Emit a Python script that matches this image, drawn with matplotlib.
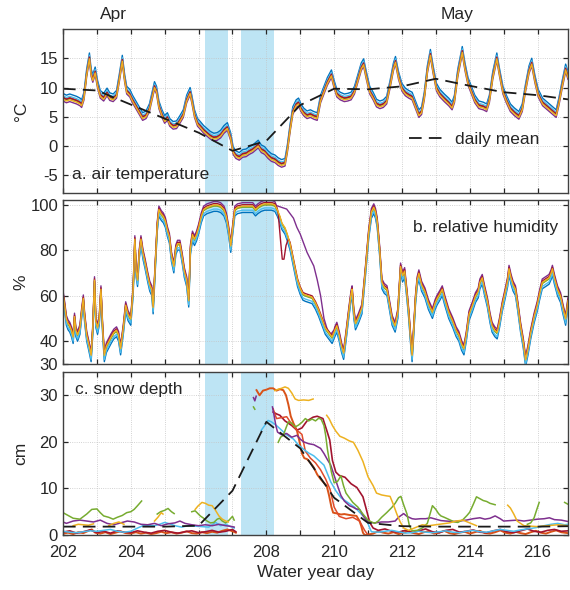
import numpy as np
import matplotlib.pyplot as plt
from matplotlib.lines import Line2D

plt.rcParams['font.family'] = ['Liberation Sans', 'DejaVu Sans']
plt.rcParams['font.size'] = 12
plt.rcParams['axes.unicode_minus'] = False

nan = np.nan

# station colours (MATLAB default order)
blue, orange, yellow, purple = '#0072BD', '#D95319', '#EDB120', '#7E2F8E'
green, cyan, red = '#77AC30', '#4DBEEE', '#A2142F'

# ---- a. air temperature (typical station), degC
temp_t = [202.00, 202.10, 202.20, 202.30, 202.40, 202.50, 202.55, 202.62, 202.70, 202.78,
          202.83, 202.88, 202.95, 203.02, 203.10, 203.20, 203.30, 203.38, 203.48, 203.58,
          203.66, 203.75, 203.82, 203.88, 203.97, 204.05, 204.15, 204.25, 204.35, 204.45,
          204.55, 204.63, 204.70, 204.76, 204.83, 204.92, 205.00, 205.08, 205.15, 205.25,
          205.35, 205.45, 205.55, 205.65, 205.75, 205.80, 205.88, 205.97, 206.05, 206.15,
          206.25, 206.35, 206.45, 206.55, 206.65, 206.75, 206.85, 206.95, 207.02, 207.10,
          207.20, 207.30, 207.40, 207.50, 207.60, 207.70, 207.76, 207.85, 207.95, 208.05,
          208.15, 208.25, 208.35, 208.45, 208.55, 208.62, 208.70, 208.78, 208.88, 208.95,
          209.02, 209.10, 209.20, 209.30, 209.40, 209.50, 209.60, 209.70, 209.80, 209.92,
          210.00, 210.08, 210.18, 210.30, 210.40, 210.50, 210.60, 210.70, 210.80, 210.87,
          210.95, 211.05, 211.15, 211.25, 211.35, 211.45, 211.55, 211.65, 211.75, 211.81,
          211.90, 212.00, 212.10, 212.20, 212.30, 212.40, 212.50, 212.58, 212.66, 212.75,
          212.84, 212.92, 213.02, 213.12, 213.25, 213.38, 213.48, 213.55, 213.65, 213.78,
          213.86, 213.95, 214.05, 214.15, 214.27, 214.40, 214.50, 214.58, 214.68, 214.80,
          214.88, 214.98, 215.08, 215.20, 215.32, 215.45, 215.55, 215.65, 215.75, 215.83,
          215.92, 216.02, 216.15, 216.25, 216.35, 216.45, 216.55, 216.63, 216.73, 216.83,
          216.90]
temp_v = [8.3, 8.0, 8.2, 8.0, 7.8, 7.5, 7.2, 8.5, 12.5, 15.2,
          12.5, 11.5, 12.8, 10.5, 8.8, 8.3, 9.2, 8.4, 8.2, 8.8,
          11.5, 14.8, 11.5, 9.5, 9.0, 8.0, 7.0, 6.0, 5.0, 5.3,
          6.5, 8.5, 10.3, 9.5, 7.0, 5.5, 4.5, 5.0, 4.0, 3.5,
          3.6, 4.5, 5.5, 8.0, 9.3, 8.0, 5.5, 4.0, 3.5, 2.8,
          2.3, 1.8, 1.5, 1.6, 2.0, 2.8, 3.3, 1.5, -0.8, -1.5,
          -1.8, -1.3, -1.2, -0.8, -0.5, 0.0, 0.3, -0.5, -0.8, -1.5,
          -2.0, -2.2, -2.7, -3.0, -2.8, -0.5, 3.0, 6.0, 7.2, 7.5,
          6.5, 5.8, 5.3, 5.5, 5.2, 5.0, 8.0, 9.5, 11.0, 12.3,
          10.5, 9.0, 8.5, 8.2, 8.3, 8.5, 9.5, 11.5, 13.5, 14.2,
          12.0, 9.5, 8.5, 7.3, 7.0, 7.2, 7.8, 10.5, 13.5, 14.6,
          12.0, 10.0, 9.2, 8.8, 8.5, 7.0, 5.5, 6.0, 8.5, 13.0,
          15.8, 13.0, 10.0, 9.0, 8.2, 7.5, 6.8, 8.0, 12.5, 16.3,
          13.5, 11.0, 9.5, 8.0, 7.0, 6.8, 6.5, 8.0, 12.0, 15.2,
          12.5, 9.5, 8.0, 6.5, 5.8, 5.2, 6.5, 10.0, 13.0, 14.3,
          11.5, 9.0, 7.5, 7.0, 6.5, 6.0, 5.5, 7.5, 10.5, 13.3,
          12.0]
temp_offset = [0.7, 0.1, -0.3, -0.6, -0.1, 0.3, 0.0]

temp_mean_t = [202, 203, 204, 205, 206, 207, 208, 209, 210, 211, 212, 213, 214, 215, 216, 217]
temp_mean_v = [9.8, 9.5, 7.1, 4.7, 2.3, -0.8, 0.9, 7.0, 9.8, 9.7, 10.2, 11.5, 10.3, 9.2, 8.7, 7.9]

# ---- b. relative humidity (typical station), %
rh_t = [202.00, 202.05, 202.10, 202.15, 202.20, 202.25, 202.30, 202.34, 202.38, 202.43,
        202.50, 202.55, 202.60, 202.64, 202.70, 202.76, 202.83, 202.88, 202.93, 202.97,
        203.02, 203.07, 203.12, 203.17, 203.22, 203.28, 203.35, 203.42, 203.50, 203.58,
        203.64, 203.70, 203.78, 203.85, 203.92, 204.00, 204.07, 204.12, 204.16, 204.20,
        204.25, 204.30, 204.36, 204.42, 204.50, 204.56, 204.62, 204.66, 204.72, 204.78,
        204.83, 204.90, 204.96, 205.02, 205.08, 205.14, 205.20, 205.27, 205.33, 205.38,
        205.45, 205.52, 205.58, 205.65, 205.71, 205.76, 205.82, 205.88, 205.94, 206.00,
        206.08, 206.15, 206.25, 206.35, 206.45, 206.55, 206.65, 206.75, 206.82, 206.88,
        206.95, 207.00, 207.07, 207.15, 207.30, 207.45, 207.60, 207.68, 207.75, 207.85,
        207.95, 208.05, 208.15, 208.25, 208.32, 208.40, 208.46, 208.55, 208.62, 208.70,
        208.78, 208.85, 208.92, 209.00, 209.08, 209.15, 209.25, 209.35, 209.45, 209.54,
        209.64, 209.74, 209.84, 209.94, 210.02, 210.08, 210.15, 210.22, 210.28, 210.35,
        210.43, 210.50, 210.53, 210.58, 210.63, 210.72, 210.82, 210.92, 211.02, 211.10,
        211.17, 211.22, 211.27, 211.34, 211.41, 211.48, 211.56, 211.64, 211.71, 211.80,
        211.88, 211.96, 212.02, 212.08, 212.15, 212.20, 212.26, 212.30, 212.35, 212.40,
        212.45, 212.50, 212.58, 212.68, 212.78, 212.90, 212.98, 213.04, 213.12, 213.19,
        213.26, 213.38, 213.50, 213.60, 213.68, 213.76, 213.83, 213.90, 213.98, 214.08,
        214.17, 214.25, 214.30, 214.37, 214.44, 214.52, 214.60, 214.66, 214.74, 214.81,
        214.88, 214.96, 215.05, 215.12, 215.16, 215.22, 215.28, 215.35, 215.42, 215.50,
        215.58, 215.65, 215.72, 215.80, 215.90, 215.99, 216.06, 216.14, 216.24, 216.34,
        216.40, 216.44, 216.50, 216.59, 216.68, 216.75, 216.83, 216.90]
rh_v = [60, 55, 49, 47, 46, 44, 41, 50, 44, 42,
        45, 52, 58, 50, 42, 38, 33, 45, 66, 48,
        45, 49, 62, 45, 33, 37, 39, 41, 43, 44,
        42, 36, 45, 55, 51, 49, 62, 84, 70, 66,
        78, 84, 78, 74, 68, 64, 62, 54, 72, 90,
        97, 95, 94, 92, 88, 85, 77, 72, 80, 82,
        82, 76, 70, 66, 57, 80, 86, 84, 86, 89,
        94, 97, 98, 98.5, 99, 99, 98.5, 97, 94, 89,
        81, 88, 97, 98, 98.5, 98.5, 98.5, 97, 98, 99,
        99.5, 99.5, 99.5, 99, 97, 94, 91, 89, 86, 82,
        76, 71, 66, 62.5, 60, 59.5, 59, 58.5, 56, 53,
        49, 45, 43, 41, 44, 46, 42, 37, 34, 42,
        52, 60, 62, 52, 47, 50, 54, 70, 87, 96,
        98, 96, 92, 80, 65, 63, 62, 55, 49, 46,
        52, 72, 68, 70, 60, 52, 40, 33, 45, 58,
        66, 69, 64, 61, 56, 52, 56, 58, 60, 62,
        58, 52, 48, 44, 42, 38, 36, 42, 51, 55,
        59, 61, 65, 67, 62, 57, 50, 46, 44, 43,
        48, 55, 61, 66, 71, 67, 64, 62, 55, 46,
        39, 31, 36, 43, 50, 55, 60, 65, 66, 67,
        69, 71, 67, 62, 59, 54, 49, 57]
rh_offset = [-2.0, 0.5, 0.8, 2.3, 0.3, -1.0, 1.4]

# stations that leave the bundle
purple_rh_t = [208.30, 208.40, 208.50, 208.60, 208.70, 208.80, 208.90, 209.00, 209.10,
               209.20, 209.30, 209.40, 209.50, 209.60, 209.70, 209.80, 209.90, 210.00]
purple_rh_v = [99.5, 99, 98.5, 98, 96, 94, 90, 87, 83, 79, 76, 73, 67, 60, 50, 45, 43, 45]
red_rh_t = [208.35, 208.42, 208.47, 208.52, 208.58, 208.65]
red_rh_v = [96, 84, 76, 76, 82, 85]

# ---- c. snow depth, cm (nan = no data)
green_sd_t = [202.0, 202.15, 202.3, 202.5, 202.7, 202.85, 203.0, 203.1, 203.2, 203.35, 203.48,
              203.6, 203.75, 203.88, 204.0, 204.1, 204.2, 204.32, 204.4,
              204.78, 204.88, 205.0, 205.1, 205.2, 205.28, 205.35,
              205.8, 205.9, 206.05, 206.15, 206.25, 206.35, 206.45, 206.55, 206.62, 206.7,
              206.8, 206.9, 207.0, 207.05, 207.1,
              207.62, 207.66, 207.7,
              208.35, 208.42, 208.5, 208.58, 208.65, 208.75, 208.85, 208.95, 209.05, 209.15,
              209.25, 209.35, 209.45, 209.55, 209.62, 209.7, 209.75, 209.8, 209.85, 209.92,
              210.0, 210.1, 210.2, 210.28, 210.35, 210.45, 210.55, 210.7, 210.85, 211.0,
              211.1, 211.2, 211.3, 211.4, 211.55, 211.7, 211.8, 211.9, 211.97, 212.05,
              212.15, 212.22, 212.3, 212.45, 212.6, 212.75, 212.9, 213.0, 213.08, 213.15,
              213.25, 213.4, 213.55, 213.65, 213.8, 213.92, 214.0, 214.1, 214.2, 214.3,
              214.4, 214.5, 214.6, 214.7, 214.75, 214.8,
              215.7, 215.8, 215.9, 215.98, 216.05, 216.1,
              216.8, 216.85, 216.9]
green_sd_v = [4.8, 4.2, 3.6, 3.4, 4.5, 5.5, 5.6, 4.8, 4.1, 3.8, 3.4,
              3.8, 4.2, 4.8, 5.0, 5.5, 6.3, 7.3, nan,
              4.5, 5.0, 5.3, 5.7, 5.0, 4.6, nan,
              5.0, 5.2, 4.1, 3.6, 3.0, 2.6, 2.7, 3.4, 3.6, 3.0,
              2.6, 3.2, 4.0, 3.2, nan,
              27.5, 27.0, nan,
              19.9, 21.0, 21.4, 23.0, 24.3, 24.0, 23.2, 23.6, 24.2, 25.0,
              24.5, 24.9, 24.5, 25.1, 24.8, 23.5, 21.4, 18.5, 16.3, 13.5,
              11.2, 11.5, 12.7, 10.5, 9.0, 8.0, 7.0, 6.0, 4.5, 3.2,
              2.8, 2.5, 3.0, 3.8, 4.8, 5.9, 6.8, 8.0, 8.3, 6.5,
              4.5, 2.0, 0.9, 1.0, 1.5, 2.5, 6.3, 5.5, 4.6, 4.1,
              3.8, 3.3, 2.8, 2.7, 3.3, 4.2, 4.9, 6.5, 8.2, 7.8,
              7.4, 7.2, 6.8, 6.6, 6.5, nan,
              2.3, 2.6, 3.7, 5.5, 7.0, nan,
              7.0, 6.8, 6.6]

purple_sd_t = [202.0, 202.1, 202.3, 202.5, 202.7, 202.9, 203.1, 203.3, 203.5, 203.7, 203.9,
               204.1, 204.3, 204.5, 204.7, 204.9, 205.1, 205.3, 205.45, 205.6, 205.8,
               206.0, 206.2, 206.4, 206.6, 206.8, 207.0, 207.05, 207.1,
               207.62, 207.66, 207.7, 207.72,
               208.18, 208.22, 208.28, 208.33, 208.45, 208.6, 208.75, 208.9, 209.0, 209.1,
               209.25, 209.4, 209.5, 209.6, 209.7, 209.8, 209.9, 210.0, 210.1, 210.2,
               210.3, 210.45, 210.55, 210.65, 210.75, 210.85, 210.95, 211.05, 211.2, 211.4,
               211.6, 211.8, 211.9, 212.05, 212.15, 212.3, 212.4, 212.55, 212.7, 212.85,
               213.0, 213.15, 213.3, 213.5, 213.7, 213.9, 214.1, 214.3, 214.45, 214.6,
               214.75, 214.9, 215.0, 215.2, 215.4, 215.6, 215.8, 216.0, 216.2, 216.35,
               216.5, 216.7, 216.9]
purple_sd_v = [2.8, 2.5, 3.0, 3.2, 3.0, 2.8, 3.2, 2.5, 2.2, 2.6, 3.0,
               2.8, 2.3, 2.2, 2.5, 2.0, 2.4, 2.6, 3.0, 2.5, 2.2,
               2.0, 2.2, 2.0, 2.3, 2.0, 1.8, 1.7, nan,
               29.5, 28.8, 29.8, nan,
               27.5, 26.0, 23.5, 22.1, 21.5, 21.8, 21.0, 21.4, 20.6, 20.0,
               19.6, 19.4, 19.0, 18.6, 17.5, 16.2, 15.0, 12.8, 10.6, 8.5,
               7.3, 6.3, 6.0, 5.6, 5.5, 4.2, 3.2, 2.7, 2.6, 2.8,
               2.8, 3.0, 3.8, 4.6, 4.0, 3.5, 3.4, 3.5, 3.5, 3.7,
               3.4, 3.1, 3.0, 2.9, 3.0, 3.2, 3.5, 3.7, 3.4, 3.6,
               4.1, 3.5, 3.0, 3.1, 3.2, 3.0, 3.2, 3.4, 3.5, 3.7,
               3.3, 3.2, 2.9]

yellow_sd_t = [202.3, 202.45, 202.6, 202.75, 202.9, 202.95,
               203.35, 203.5, 203.65, 203.8, 203.85,
               204.7, 204.8, 204.9, 204.95, 205.0,
               205.9, 205.98, 206.1, 206.2, 206.3, 206.4, 206.5, 206.6, 206.7, 206.8, 206.88, 206.9,
               208.25, 208.35, 208.45, 208.55, 208.65, 208.75, 208.85, 208.95, 209.1, 209.25,
               209.38, 209.4,
               209.78, 209.85, 209.95, 210.05, 210.17, 210.3, 210.45, 210.57, 210.7, 210.85,
               211.0, 211.15, 211.25, 211.4, 211.55, 211.65, 211.75, 211.85, 211.95, 212.05,
               212.2, 212.4, 212.6, 212.8, 213.0, 213.2, 213.4, 213.6, 213.8, 214.0, 214.2, 214.25,
               215.12, 215.2, 215.3, 215.4, 215.5, 215.6, 215.8, 216.0, 216.3, 216.6, 216.9]
yellow_sd_v = [2.0, 2.3, 2.2, 2.1, 2.4, nan,
               2.0, 2.5, 2.8, 2.3, nan,
               3.0, 3.8, 4.8, 4.5, nan,
               5.5, 6.2, 7.0, 6.8, 6.4, 6.3, 5.3, 4.1, 3.4, 3.0, 2.8, nan,
               31.0, 31.3, 31.5, 31.8, 31.5, 30.5, 29.2, 28.9, 29.0, 28.9,
               29.2, nan,
               25.7, 25.0, 23.5, 22.3, 21.2, 20.8, 20.2, 19.9, 18.2, 15.8,
               12.5, 10.6, 9.0, 8.6, 8.4, 8.3, 6.5, 4.5, 2.8, 1.5,
               1.0, 1.6, 2.2, 2.0, 2.2, 2.4, 2.6, 3.0, 3.2, 2.6, 2.0, nan,
               6.4, 5.8, 4.5, 3.0, 2.5, 2.0, 1.9, 1.8, 2.0, 2.2, 2.0]

cyan_sd_t = [202.0, 202.2, 202.4, 202.6, 202.8, 203.0, 203.2, 203.4, 203.6, 203.8, 204.0,
             204.2, 204.36, 204.5, 204.7, 204.85, 205.0, 205.15, 205.3, 205.5, 205.7,
             205.9, 206.1, 206.3, 206.5, 206.65, 206.8, 206.95, 207.05, 207.1,
             207.85, 207.95, 208.05, 208.15, 208.3, 208.45, 208.6, 208.8, 208.95, 209.1,
             209.25, 209.4, 209.55, 209.7, 209.8, 209.9, 210.05, 210.2, 210.4, 210.6,
             210.8, 210.95, 211.05, 211.1, 211.3, 211.5, 211.7, 211.9, 212.1, 212.3,
             212.5, 212.7, 212.9, 213.1, 213.3, 213.5, 213.7, 213.9, 214.1, 214.3,
             214.5, 214.7, 214.9, 215.1, 215.3, 215.5, 215.7, 215.97, 216.2, 216.4,
             216.6, 216.8, 216.9]
cyan_sd_v = [0.8, 0.6, 0.5, 0.7, 0.9, 0.8, 1.0, 1.2, 0.8, 0.6, 0.8,
             1.5, 2.0, 2.1, 2.0, 2.3, 2.7, 2.4, 2.0, 1.7, 2.0,
             1.9, 1.8, 1.7, 2.7, 2.0, 2.3, 1.8, 1.5, nan,
             22.5, 23.5, 24.6, 24.3, 23.5, 22.5, 21.5, 20.6, 19.3, 18.4,
             17.6, 17.0, 16.0, 15.0, 13.2, 11.4, 9.5, 8.0, 7.0, 6.0,
             4.5, 3.4, 1.5, 0.7, 0.6, 0.8, 1.0, 0.7, 0.4, 0.5,
             0.8, 0.6, 0.5, 0.7, 0.9, 0.6, 0.5, 0.8, 1.0, 0.7,
             0.6, 0.9, 1.2, 1.0, 0.8, 1.1, 1.3, 1.6, 2.0, 2.3,
             2.5, 2.2, 2.3]

orange_sd_t = [202.0, 202.15, 202.3, 202.45, 202.6, 202.75, 202.85, 202.95, 203.1, 203.25,
               203.4, 203.55, 203.7, 203.85, 204.0, 204.15, 204.3, 204.45, 204.6, 204.75,
               204.9, 205.05, 205.2, 205.35, 205.5, 205.65, 205.8, 205.95, 206.1, 206.25,
               206.4, 206.55, 206.7, 206.85, 207.0, 207.1, 207.15,
               207.71, 207.8, 207.9, 208.0, 208.1, 208.2, 208.3, 208.4, 208.5, 208.58,
               208.65, 208.72, 208.8, 208.9, 208.98, 209.05, 209.12, 209.2, 209.3, 209.4,
               209.5, 209.6, 209.7, 209.78, 209.85, 209.92, 209.97, 210.1, 210.2, 210.3,
               210.45, 210.55, 210.66, 210.75, 210.8, 210.85, 210.9, 211.0, 211.15, 211.3,
               211.45, 211.6, 211.75, 211.9, 212.05, 212.2, 212.35, 212.5, 212.65, 212.8,
               212.95, 213.1, 213.25, 213.4, 213.55, 213.7, 213.85, 214.0, 214.15, 214.3,
               214.45, 214.6, 214.75, 214.9, 215.05, 215.2, 215.35, 215.5, 215.65, 215.8,
               215.95, 216.1, 216.25, 216.4, 216.55, 216.7, 216.9]
orange_sd_v = [0.3, 0.5, 0.2, 0.6, 0.4, 0.9, 1.2, 0.5, 0.3, 0.6,
               0.2, 0.5, 0.8, 0.4, 0.3, 0.6, 0.3, 0.5, 0.2, 0.4,
               0.7, 0.4, 0.6, 0.3, 0.5, 0.8, 0.4, 0.3, 0.6, 0.4,
               0.7, 0.5, 0.9, 1.2, 0.8, 0.5, nan,
               31.1, 30.0, 31.0, 31.2, 31.5, 31.5, 31.0, 31.3, 31.1, 30.0,
               28.0, 25.5, 24.0, 22.5, 20.0, 17.5, 16.5, 16.3, 15.5, 14.5,
               13.0, 12.0, 11.2, 10.6, 8.5, 6.0, 4.8, 4.6, 4.4, 4.5,
               4.3, 4.2, 4.1, 3.0, 1.9, 0.5, 0.0, 0.1, 0.3, 0.8,
               0.5, 0.3, 0.6, 0.2, 0.5, 0.9, 0.4, 0.2, 0.6, 0.8,
               0.3, 0.5, 0.9, 0.4, 0.2, 0.5, 0.7, 0.3, 0.6, 0.9,
               0.4, 0.3, 0.6, 1.0, 0.5, 0.3, 0.7, 0.4, 0.2, 0.6,
               0.9, 0.5, 0.3, 0.7, 1.0, 0.6, 0.4]

red_sd_t = [202.0, 202.2, 202.4, 202.6, 202.8, 203.0, 203.2, 203.4, 203.6, 203.8, 204.0,
            204.2, 204.4, 204.6, 204.8, 205.0, 205.2, 205.4, 205.6, 205.8, 206.0,
            206.2, 206.4, 206.6, 206.8, 207.0, 207.1, 207.15,
            208.2, 208.3, 208.4, 208.55, 208.75, 208.9, 209.05, 209.2, 209.38, 209.5,
            209.67, 209.78, 209.87, 209.95, 210.05, 210.15, 210.32, 210.5, 210.67, 210.85,
            210.95, 211.05, 211.15, 211.3, 211.5, 211.7, 211.9, 212.1, 212.3, 212.5,
            212.7, 212.9, 213.1, 213.3, 213.5, 213.7, 213.9, 214.1, 214.3, 214.5,
            214.7, 214.9, 215.1, 215.3, 215.5, 215.7, 215.9, 216.1, 216.3, 216.5,
            216.7, 216.9]
red_sd_v = [0.6, 0.9, 0.4, 0.7, 1.1, 0.5, 0.8, 0.4, 0.9, 0.6, 0.5,
            0.9, 0.6, 0.4, 0.8, 1.0, 0.6, 0.4, 0.7, 0.9, 0.5,
            0.7, 1.0, 0.6, 0.8, 1.2, 0.7, nan,
            26.4, 26.0, 25.7, 24.5, 23.5, 22.5, 23.0, 24.5, 25.3, 25.5,
            25.0, 22.5, 20.4, 16.0, 13.5, 12.8, 12.4, 11.0, 10.2, 8.2,
            5.5, 2.7, 1.5, 1.0, 1.3, 0.8, 0.6, 1.0, 0.5, 0.9,
            1.3, 0.7, 0.5, 1.0, 1.2, 0.6, 0.8, 1.1, 0.6, 0.5,
            0.9, 1.2, 0.7, 0.5, 0.9, 1.3, 0.8, 0.6, 1.0, 1.2,
            0.8, 0.9]

red2_sd_t = [208.2, 208.3, 208.45, 208.6, 208.75, 208.9, 209.05, 209.15, 209.3, 209.45,
             209.6, 209.75, 209.88, 210.0, 210.15, 210.35, 210.55, 210.75, 210.9, 211.0]
red2_sd_v = [27.1, 25.0, 25.2, 25.4, 23.8, 22.5, 21.6, 18.0, 16.5, 15.5,
             14.0, 12.0, 9.8, 6.0, 4.0, 3.5, 3.8, 3.0, 1.0, 0.0]

snow_mean_t = [202, 203, 204, 205, 206, 207, 208, 209, 210, 211, 212, 213, 214, 215, 216, 217]
snow_mean_v = [1.8, 1.8, 1.8, 1.8, 2.0, 9.5, 24.3, 18.6, 8.0, 2.6, 1.9, 1.8, 1.8, 1.8, 1.8, 1.9]

storms = [(206.2, 206.87), (207.24, 208.23)]


def splice(t, v, seg_t, seg_v):
    t = np.asarray(t)
    v = np.asarray(v, dtype=float)
    before = t < seg_t[0]
    after = t > seg_t[-1]
    return (np.concatenate([t[before], seg_t, t[after]]),
            np.concatenate([v[before], seg_v, v[after]]))


fig = plt.figure(figsize=(5.7, 5.9), dpi=100)
ax_a = fig.add_axes([0.1105, 0.6729, 0.886, 0.2780])
ax_b = fig.add_axes([0.1105, 0.3831, 0.886, 0.2780])
ax_c = fig.add_axes([0.1105, 0.0932, 0.886, 0.2763])

txt = '#262626'
colors = [blue, orange, purple, green, cyan, red, yellow]
order_idx = [0, 1, 3, 4, 5, 6, 2]   # offsets listed as blue, orange, yellow, purple, green, cyan, red
dash_kw = dict(color='#1a1a1a', lw=1.3, dashes=(7, 4))

tt = np.array(temp_t)
tv = np.array(temp_v)
for c, k in zip(colors, order_idx):
    ax_a.plot(tt, tv + temp_offset[k], color=c, lw=1.0)
ax_a.plot(temp_mean_t, temp_mean_v, **dash_kw)

rt = np.array(rh_t)
rv = np.array(rh_v, dtype=float)
for c, k in zip(colors, order_idx):
    x, y = rt, rv + rh_offset[k]
    if c == purple:
        x, y = splice(rt, rv + rh_offset[k], purple_rh_t, purple_rh_v)
    if c == red:
        x, y = splice(rt, rv + rh_offset[k], red_rh_t, red_rh_v)
    ax_b.plot(x, y, color=c, lw=1.0)

snow = [(orange_sd_t, orange_sd_v, orange, 1.4), (red_sd_t, red_sd_v, red, 1.2),
        (red2_sd_t, red2_sd_v, '#E04A2A', 1.1), (cyan_sd_t, cyan_sd_v, cyan, 1.1),
        (purple_sd_t, purple_sd_v, purple, 1.1), (green_sd_t, green_sd_v, green, 1.1),
        (yellow_sd_t, yellow_sd_v, yellow, 1.1)]
for st, sv, c, w in snow:
    ax_c.plot(st, sv, color=c, lw=w)
ax_c.plot(snow_mean_t, snow_mean_v, **dash_kw)

for ax in (ax_a, ax_b, ax_c):
    for x0, x1 in storms:
        ax.axvspan(x0, x1, color='#bde4f4', lw=0, zorder=0)
    ax.set_xlim(202, 216.9)
    ax.set_xticks(np.arange(202, 217))
    ax.grid(True, color='#c4c4c4', lw=0.6, ls=':')
    ax.set_axisbelow(True)
    ax.tick_params(direction='in', top=True, right=True, length=3.5, width=0.9,
                   colors=txt, labelsize=12)
    ax.tick_params(axis='x', pad=7)
    for s in ax.spines.values():
        s.set_color('#404040')
        s.set_linewidth(1.0)
    ax.yaxis.set_label_coords(-0.068, 0.5)

ax_a.set_ylim(-8, 20)
ax_a.set_yticks([-5, 0, 5, 10, 15])
ax_a.set_xticklabels([])
ax_a.set_ylabel('°C', fontsize=12.5, color=txt)
ax_a.text(0.018, 0.11, 'a. air temperature', transform=ax_a.transAxes,
          fontsize=12.5, color=txt, va='center')
ax_a.legend(handles=[Line2D([], [], **dash_kw)], labels=['daily mean'],
            loc='center right', bbox_to_anchor=(0.975, 0.325), frameon=False,
            handlelength=2.2, handletextpad=0.5, fontsize=12.5, labelcolor=txt)

ax_b.set_ylim(30, 102)
ax_b.set_yticks([30, 40, 60, 80, 100])
ax_b.set_xticklabels([])
ax_b.set_ylabel('%', fontsize=12.5, color=txt)
ax_b.text(0.693, 0.83, 'b. relative humidity', transform=ax_b.transAxes,
          fontsize=12.5, color=txt, va='center')

ax_c.set_ylim(0, 35)
ax_c.set_yticks([0, 10, 20, 30])
ax_c.set_xticklabels([str(d) if d % 2 == 0 else '' for d in range(202, 217)])
ax_c.set_ylabel('cm', fontsize=12.5, color=txt)
ax_c.set_xlabel('Water year day', fontsize=12.5, color=txt, labelpad=4)
ax_c.text(0.024, 0.895, 'c. snow depth', transform=ax_c.transAxes,
          fontsize=12.5, color=txt, va='center')

fig.text(113 / 570, 1 - 15 / 590, 'Apr', ha='center', va='center', fontsize=12.5, color=txt)
fig.text(457 / 570, 1 - 15 / 590, 'May', ha='center', va='center', fontsize=12.5, color=txt)

fig.savefig('out.png', dpi=100)
